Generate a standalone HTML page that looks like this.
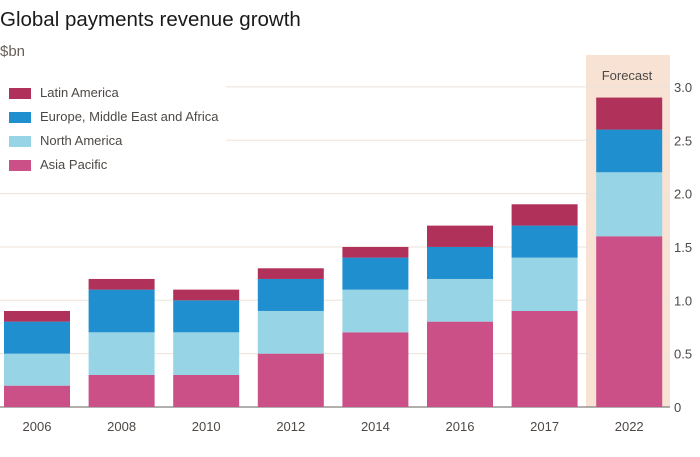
<!DOCTYPE html>
<html><head><meta charset="utf-8"><style>
body{margin:0;background:#fff;font-family:"Liberation Sans",sans-serif;}
svg text{font-family:"Liberation Sans",sans-serif;}
</style></head><body>
<svg width="700" height="452">
<text x="0" y="26" font-size="20.5" fill="#1a1a1a">Global payments revenue growth</text>
<text x="0" y="56" font-size="15" fill="#66605c">$bn</text>
<rect x="586" y="55" width="84" height="352" fill="#f7e2d4"/>
<text x="627" y="80" font-size="13" fill="#4d4845" text-anchor="middle">Forecast</text>
<g id="grid"></g><g id="bars"></g><g id="xt"></g><g id="yt"></g>
<g>
<rect x="0" y="80" width="226" height="96" fill="#fff"/>
<rect x="9" y="88" width="22" height="11" fill="#b0325a"/>
<text x="40" y="97" font-size="13" fill="#4d4845">Latin America</text>
<rect x="9" y="112" width="22" height="11" fill="#1f8fcf"/>
<text x="40" y="121" font-size="13" fill="#4d4845">Europe, Middle East and Africa</text>
<rect x="9" y="136" width="22" height="11" fill="#96d4e6"/>
<text x="40" y="145" font-size="13" fill="#4d4845">North America</text>
<rect x="9" y="160" width="22" height="11" fill="#cc5088"/>
<text x="40" y="169" font-size="13" fill="#4d4845">Asia Pacific</text>
</g>
</svg>
<script>
const categories=["2006","2008","2010","2012","2014","2016","2017","2022"];
const asiaPacific=[0.2,0.3,0.3,0.5,0.7,0.8,0.9,1.6];
const northAmerica=[0.3,0.4,0.4,0.4,0.4,0.4,0.5,0.6];
const emea=[0.3,0.4,0.3,0.3,0.3,0.3,0.3,0.4];
const latinAmerica=[0.1,0.1,0.1,0.1,0.1,0.2,0.2,0.3];
const yTicks=[0,0.5,1.0,1.5,2.0,2.5,3.0];
const NS="http://www.w3.org/2000/svg";
const y0=407,scale=106.7;
function y(v){return y0-v*scale;}
function x(i){return 4+i*84.6;}
const bw=66;
const grid=document.getElementById('grid'),yt=document.getElementById('yt'),xt=document.getElementById('xt'),bars=document.getElementById('bars');
yTicks.forEach(t=>{
 const l=document.createElementNS(NS,'line');
 l.setAttribute('x1',0);l.setAttribute('x2',670);l.setAttribute('y1',y(t));l.setAttribute('y2',y(t));
 l.setAttribute('stroke',t===0?'#66605c':'#ede3da');l.setAttribute('stroke-width',1);
 
 
 grid.appendChild(l);
 const tx=document.createElementNS(NS,'text');
 tx.setAttribute('x',674);tx.setAttribute('y',y(t)+5);tx.setAttribute('font-size','13');tx.setAttribute('fill','#4d4845');
 tx.textContent=t===0?'0':t.toFixed(1);
 
 
 yt.appendChild(tx);
});
const series=[[asiaPacific,'#cc5088','asia-pacific'],[northAmerica,'#96d4e6','north-america'],[emea,'#1f8fcf','emea'],[latinAmerica,'#b0325a','latin-america']];
categories.forEach((c,i)=>{
 let base=0;
 series.forEach(([vals,col,nm])=>{
  const r=document.createElementNS(NS,'rect');
  const top=base+vals[i];
  r.setAttribute('x',x(i));r.setAttribute('width',bw);
  r.setAttribute('y',y(top));r.setAttribute('height',y(base)-y(top));
  r.setAttribute('fill',col);
  
  
  bars.appendChild(r);
  base=top;
 });
 const tx=document.createElementNS(NS,'text');
 tx.setAttribute('x',x(i)+bw/2);tx.setAttribute('y',431);tx.setAttribute('font-size','13');tx.setAttribute('fill','#4d4845');tx.setAttribute('text-anchor','middle');
 tx.textContent=c;
 
 
 xt.appendChild(tx);
});
</script>
</body></html>
